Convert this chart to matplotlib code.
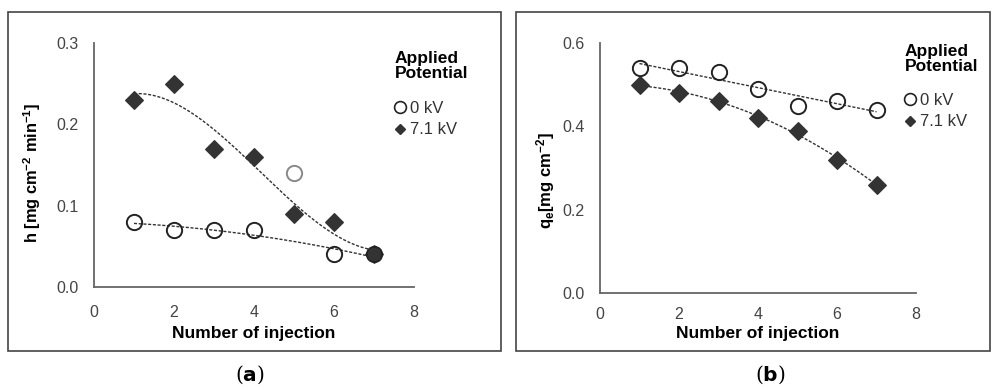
import numpy as np
import matplotlib
matplotlib.use("Agg")
import matplotlib.pyplot as plt
from matplotlib.patches import Rectangle
from matplotlib.lines import Line2D

plt.rcParams['font.family'] = ['Liberation Sans', 'DejaVu Sans']
plt.rcParams['mathtext.fontset'] = 'custom'
plt.rcParams['mathtext.rm'] = 'Liberation Sans:bold'
plt.rcParams['mathtext.it'] = 'Liberation Sans:bold'
plt.rcParams['mathtext.default'] = 'rm'

injections = [1, 2, 3, 4, 5, 6, 7]
h_0kV = [0.08, 0.07, 0.07, 0.07, 0.14, 0.04, 0.04]
h_71kV = [0.23, 0.25, 0.17, 0.16, 0.09, 0.08, 0.04]
q_0kV = [0.54, 0.54, 0.53, 0.49, 0.45, 0.46, 0.44]
q_71kV = [0.50, 0.48, 0.46, 0.42, 0.39, 0.32, 0.26]
legend_labels = ['0 kV', '7.1 kV']
legend_title = 'Applied\nPotential'

fig = plt.figure(figsize=(9.93, 3.9), dpi=100)

# panel frames
for x0, w in [(8/993, 493/993), (516/993, 474/993)]:
    fig.patches.append(Rectangle((x0, 1-351/390), w, (351-12)/390, transform=fig.transFigure,
                                 fill=False, edgecolor='#444444', lw=1.2))

axA = fig.add_axes([94/993, 1-287/390, 320/993, 244/390])
axB = fig.add_axes([600/993, 1-293/390, 316/993, 250/390])

dash = (0, (2.2, 1.2))
tick_color = '#444444'

def style(ax, ymax, yticks, xpad, xlabelpad):
    ax.set_xlim(0, 8)
    ax.set_ylim(0, ymax)
    ax.set_xticks([0, 2, 4, 6, 8])
    ax.set_yticks(yticks)
    ax.set_yticklabels([f"{t:.1f}" for t in yticks])
    for s in ['top', 'right']:
        ax.spines[s].set_visible(False)
    for s in ['left', 'bottom']:
        ax.spines[s].set_color('#666666')
        ax.spines[s].set_linewidth(1.3)
    ax.tick_params(length=0, labelsize=11.5, colors=tick_color, pad=11)
    ax.tick_params(axis='x', pad=xpad)
    ax.set_xlabel('Number of injection', fontsize=12.5, fontweight='bold', labelpad=xlabelpad)
    ax.patch.set_alpha(0)

x = np.array(injections, dtype=float)
xs = np.linspace(1, 7, 200)

# Panel a
style(axA, 0.3, [0.0, 0.1, 0.2, 0.3], 13, 4)
mask = np.array([True, True, True, True, False, True, True])
pA0 = np.polyfit(x[mask], np.array(h_0kV)[mask], 2)
pA1 = np.polyfit(x, np.array(h_71kV), 3)
axA.plot(xs, np.polyval(pA1, xs), color='#333333', lw=1, ls=dash)
axA.plot(xs, np.polyval(pA0, xs), color='#333333', lw=1, ls=dash)
ec = ['#222222' if m else '#888888' for m in mask]
axA.scatter(x, h_71kV, marker='D', s=80, color='#333333', zorder=3)
for xi, yi, c in zip(x, h_0kV, ec):
    axA.plot(xi, yi, 'o', ms=11, mfc='none', mec=c, mew=1.4, zorder=4)
axA.set_ylabel('h [mg cm$^{-2}$ min$^{-1}$]', fontsize=11.8, fontweight='bold')
axA.yaxis.set_label_coords(-51/320, 0.47)

# Panel b
style(axB, 0.6, [0.0, 0.2, 0.4, 0.6], 10, 3)
pB0 = np.polyfit(x, np.array(q_0kV), 2)
pB1 = np.polyfit(x, np.array(q_71kV), 2)
axB.plot(xs, np.polyval(pB0, xs), color='#333333', lw=1, ls=dash)
axB.plot(xs, np.polyval(pB1, xs), color='#333333', lw=1, ls=dash)
axB.scatter(x, q_71kV, marker='D', s=80, color='#333333', zorder=3)
axB.plot(x, q_0kV, 'o', ms=11, mfc='none', mec='#222222', mew=1.4, zorder=4, ls='none')
axB.set_ylabel('q$_e$[mg cm$^{-2}$]', fontsize=12, fontweight='bold')
axB.yaxis.set_label_coords(-43/316, 0.45)

# Legends
handles = [Line2D([], [], marker='o', ls='none', ms=8.5, mfc='none', mec='#222222', mew=1.2),
           Line2D([], [], marker='D', ls='none', ms=5, color='#333333')]
for ax, tx, ty, ly in [(axA, 395, 66, 94), (axB, 905, 59, 86)]:
    fig.text(tx/993, 1-ty/390, legend_title, fontsize=12.5, fontweight='bold',
             va='center', ha='left', linespacing=0.92)
    leg = fig.legend(handles, legend_labels, loc='upper left',
                     bbox_to_anchor=((tx-8)/993, 1-ly/390), frameon=False,
                     fontsize=12, handlelength=0.8, handletextpad=0.2, labelspacing=0.4,
                     borderaxespad=0)
    for t in leg.get_texts():
        t.set_color('#333333')

fig.text(250/993, 1-375/390, r'($\mathbf{a}$)', fontsize=14.5, ha='center', va='center', family='DejaVu Serif')
fig.text(770/993, 1-375/390, r'($\mathbf{b}$)', fontsize=14.5, ha='center', va='center', family='DejaVu Serif')

fig.savefig('out.png', dpi=100)
